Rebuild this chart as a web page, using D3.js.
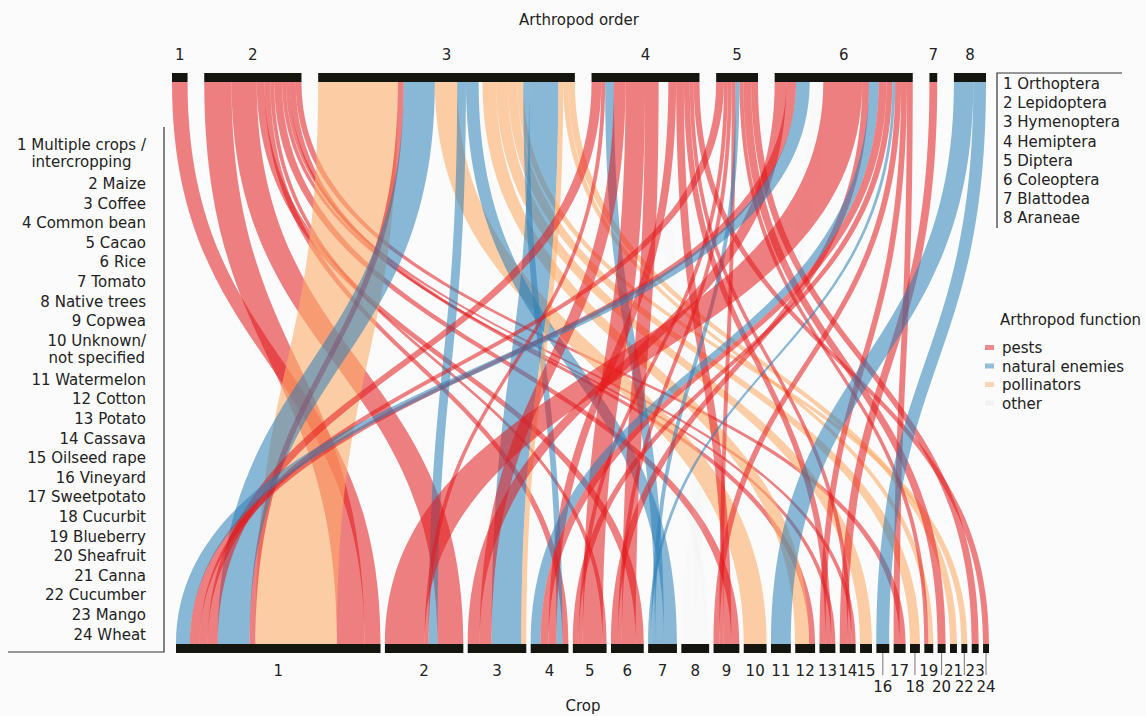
<!DOCTYPE html>
<html>
<head>
<meta charset="utf-8">
<script src="https://cdn.jsdelivr.net/npm/d3@7"></script>
<style>
  body { margin: 0; background: #fbfbfb; }
  text { font-family: "DejaVu Sans", sans-serif; fill: #222; }
</style>
</head>
<body>
<div id="chart"></div>
<script>
// Arthropod orders (top axis) and crops (bottom axis)
var orderNames = ["Orthoptera", "Lepidoptera", "Hymenoptera", "Hemiptera",
                  "Diptera", "Coleoptera", "Blattodea", "Araneae"];
var cropNames = ["Multiple crops /|intercropping", "Maize", "Coffee", "Common bean", "Cacao",
                 "Rice", "Tomato", "Native trees", "Copwea", "Unknown/|not specified",
                 "Watermelon", "Cotton", "Potato", "Cassava", "Oilseed rape", "Vineyard",
                 "Sweetpotato", "Cucurbit", "Blueberry", "Sheafruit", "Canna", "Cucumber",
                 "Mango", "Wheat"];
var functions = ["pests", "natural enemies", "pollinators", "other"];
var funcColors = ["#e31a1c", "#2c7fb8", "#fdae6b", "#dddddd"];

// flows per order: [crop, function, number of studies], listed in stacking order on the top bar
var orthoptera = [[1, "pests", 16]];
var lepidoptera = [[1, "pests", 28], [2, "pests", 26], [6, "pests", 8], [4, "pests", 6], [5, "pests", 4],
                   [9, "pests", 8], [13, "pests", 4], [14, "pests", 4], [12, "pests", 6], [17, "pests", 6]];
var hymenoptera = [[1, "pollinators", 82], [1, "pests", 6], [1, "natural enemies", 32],
                   [10, "pollinators", 23], [2, "natural enemies", 9], [7, "natural enemies", 13],
                   [8, "other", 4], [12, "pollinators", 14], [15, "pollinators", 12], [18, "pollinators", 10],
                   [22, "pollinators", 6], [4, "natural enemies", 6], [3, "natural enemies", 30],
                   [3, "pollinators", 5], [19, "pollinators", 5], [21, "pollinators", 7]];
var hemiptera = [[1, "pests", 10], [2, "pests", 4], [7, "natural enemies", 9], [3, "pests", 12],
                 [5, "pests", 20], [6, "pests", 14], [8, "other", 10], [4, "pests", 8], [9, "pests", 8],
                 [13, "pests", 6], [14, "pests", 4], [24, "pests", 6]];
var diptera = [[1, "pests", 8], [5, "pests", 4], [6, "pests", 4], [9, "pests", 4],
               [7, "natural enemies", 4], [19, "pests", 4], [20, "pests", 8], [23, "pests", 7]];
var coleoptera = [[3, "pests", 12], [1, "pests", 10], [1, "natural enemies", 14], [8, "other", 14],
                  [2, "pests", 40], [6, "pests", 7], [4, "natural enemies", 10], [4, "pests", 8],
                  [5, "pests", 6], [7, "natural enemies", 3], [9, "pests", 6], [13, "pests", 6],
                  [17, "pests", 6]];
var blattodea = [[14, "pests", 8]];
var araneae = [[11, "natural enemies", 20], [16, "natural enemies", 13]];

var orderFlows = [orthoptera, lepidoptera, hymenoptera, hemiptera, diptera, coleoptera, blattodea, araneae];

var W = 1146, H = 716;
var topY = 73, botY = 644, barH = 9;
var topRange = [172, 986], botRange = [176, 989];
var topGap = 16.7, botGap = 4.4;

var svg = d3.select("#chart").append("svg")
  .attr("width", W).attr("height", H);
svg.append("rect").attr("width", W).attr("height", H).attr("fill", "#fbfbfb");

// flatten flows
var flows = [];
orderFlows.forEach(function (list, i) {
  list.forEach(function (f, j) {
    flows.push({ order: i + 1, crop: f[0], fn: f[1], v: f[2], rank: j });
  });
});
var total = d3.sum(flows, d => d.v);

var topScale = d3.scaleLinear().domain([0, total])
  .range([0, topRange[1] - topRange[0] - topGap * (orderNames.length - 1)]);
var botScale = d3.scaleLinear().domain([0, total])
  .range([0, botRange[1] - botRange[0] - botGap * (cropNames.length - 1)]);
var color = d3.scaleOrdinal().domain(functions).range(funcColors);

// order bars
var orders = [], acc = 0;
orderNames.forEach(function (name, i) {
  var t = d3.sum(flows.filter(f => f.order === i + 1), f => f.v);
  orders.push({ x0: topRange[0] + topScale(acc) + i * topGap, w: topScale(t), name: name });
  acc += t;
});
// crop bars
var crops = [];
acc = 0;
cropNames.forEach(function (name, i) {
  var t = d3.sum(flows.filter(f => f.crop === i + 1), f => f.v);
  crops.push({ x0: botRange[0] + botScale(acc) + i * botGap, w: botScale(t), name: name });
  acc += t;
});

// top positions: stacking order as listed
orders.forEach(function (o, i) {
  var c = 0;
  flows.filter(f => f.order === i + 1).forEach(function (f) {
    f.t0 = o.x0 + topScale(c);
    c += f.v;
    f.t1 = o.x0 + topScale(c);
  });
});
// bottom positions: highest order first
var botRank = { "natural enemies": 0, "pests": 1, "pollinators": 2, "other": 3 };
crops.forEach(function (cr, i) {
  var c = 0;
  flows.filter(f => f.crop === i + 1)
    .sort((a, b) => (b.order - a.order) || (botRank[a.fn] - botRank[b.fn]))
    .forEach(function (f) {
      f.b0 = cr.x0 + botScale(c);
      c += f.v;
      f.b1 = cr.x0 + botScale(c);
    });
});

var y0 = topY + barH, y1 = botY, ym = (y0 + y1) / 2;
function ribbon(f) {
  return "M" + f.t0 + "," + y0 + "L" + f.t1 + "," + y0 +
    "C" + f.t1 + "," + ym + " " + f.b1 + "," + ym + " " + f.b1 + "," + y1 +
    "L" + f.b0 + "," + y1 +
    "C" + f.b0 + "," + ym + " " + f.t0 + "," + ym + " " + f.t0 + "," + y0 + "Z";
}

svg.append("g").selectAll("path")
  .data(flows)
  .enter().append("path")
  .attr("d", ribbon)
  .attr("fill", d => color(d.fn))
  .attr("fill-opacity", d => d.fn === "pollinators" ? 0.6 : d.fn === "other" ? 0.06 : 0.55);

// bars
svg.append("g").selectAll("rect")
  .data(orders).enter().append("rect")
  .attr("x", d => d.x0).attr("y", topY).attr("width", d => d.w).attr("height", barH)
  .attr("fill", "#15150f");
svg.append("g").selectAll("rect")
  .data(crops).enter().append("rect")
  .attr("x", d => d.x0).attr("y", botY).attr("width", d => d.w).attr("height", barH)
  .attr("fill", "#15150f");

// order numbers and title
svg.append("g").selectAll("text")
  .data(orders).enter().append("text")
  .attr("x", d => d.x0 + d.w / 2).attr("y", 60)
  .attr("text-anchor", "middle").style("font-size", "15px")
  .text((d, i) => i + 1);
svg.append("text").attr("x", (topRange[0] + topRange[1]) / 2).attr("y", 25)
  .attr("text-anchor", "middle").style("font-size", "15px").text("Arthropod order");

// crop numbers (even ones from 16 on drop to a second row)
var cropLab = svg.append("g");
crops.forEach(function (c, i) {
  var n = i + 1, cx = c.x0 + c.w / 2;
  var low = n >= 16 && n % 2 === 0;
  if (low) {
    cropLab.append("line").attr("x1", cx).attr("x2", cx).attr("y1", botY + barH).attr("y2", 675)
      .attr("stroke", "#555").attr("stroke-width", 0.8);
  }
  cropLab.append("text").attr("x", cx).attr("y", low ? 692 : 676)
    .attr("text-anchor", "middle").style("font-size", "15px").text(n);
});
svg.append("text").attr("x", 583).attr("y", 711)
  .attr("text-anchor", "middle").style("font-size", "15px").text("Crop");

// crop legend on the left
var leftG = svg.append("g");
var ly = 145;
crops.forEach(function (c, i) {
  var lines = (i + 1 + " " + c.name).split("|");
  if (lines.length === 1) {
    leftG.append("text").attr("x", 146).attr("y", ly + 5)
      .attr("text-anchor", "end").style("font-size", "15px").text(lines[0]);
    ly += 19.6;
  } else {
    var ts = lines.map(function (l, k) {
      return leftG.append("text").attr("y", ly + 5 + k * 17)
        .attr("text-anchor", "middle").style("font-size", "15px").text(l);
    });
    var mw = d3.max(ts, t => t.node().getComputedTextLength());
    ts.forEach(t => t.attr("x", 146 - mw / 2));
    ly += 17 + 22;
  }
});
leftG.append("path").attr("d", "M8,652H164V127")
  .attr("fill", "none").attr("stroke", "#333").attr("stroke-width", 1.2);

// order legend on the right
var rightG = svg.append("g");
orderNames.forEach(function (n, i) {
  rightG.append("text").attr("x", 1003).attr("y", 89 + i * 19.2)
    .style("font-size", "15px").text((i + 1) + " " + n);
});
rightG.append("path").attr("d", "M1122,73H997V228")
  .attr("fill", "none").attr("stroke", "#333").attr("stroke-width", 1.2);

// function legend
var fg = svg.append("g");
fg.append("text").attr("x", 1000).attr("y", 325).style("font-size", "15px").text("Arthropod function");
functions.forEach(function (fn, i) {
  var yy = 348 + i * 18.5;
  fg.append("rect").attr("x", 985).attr("y", yy - 3).attr("width", 9).attr("height", 5)
    .attr("fill", color(fn)).attr("fill-opacity", fn === "other" ? 0.3 : 0.5);
  fg.append("text").attr("x", 1002).attr("y", yy + 5).style("font-size", "15px").text(fn);
});
</script>
</body>
</html>
